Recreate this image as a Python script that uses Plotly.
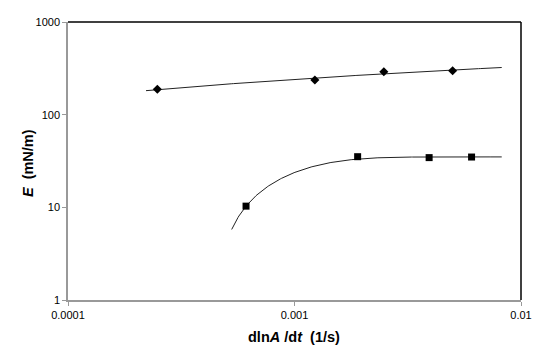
import numpy as np
import plotly.graph_objects as go

# Data
diamond_x = [0.000248, 0.00123, 0.00248, 0.00499]
diamond_y = [188, 237, 291, 298]
square_x = [0.000611, 0.00190, 0.00393, 0.00605]
square_y = [10.3, 35.2, 34.4, 34.9]

x_tick_vals = [0.0001, 0.001, 0.01]
x_tick_text = ["0.0001", "0.001", "0.01"]
y_tick_vals = [1, 10, 100, 1000]
y_tick_text = ["1", "10", "100", "1000"]

x_title = "<b>dln<i>A</i> /d<i>t</i>&nbsp;&nbsp;(1/s)</b>"
y_title = "<b><i>E</i>&nbsp;&nbsp;(mN/m)</b>"

# Trend-curve domains and parameters
diamond_fit_range = [0.000221, 0.00822]
square_fit_range = [0.000528, 0.00822]
square_fit_params = dict(Emax=35.0, x0=0.000439, tau=0.000494)

# Diamond trendline: logarithmic least-squares fit (y = a ln x + b)
a, b = np.polyfit(np.log(diamond_x), diamond_y, 1)
dx = np.logspace(np.log10(diamond_fit_range[0]), np.log10(diamond_fit_range[1]), 200)
dy = a * np.log(dx) + b

# Square trendline: saturating exponential
sx = np.logspace(np.log10(square_fit_range[0]), np.log10(square_fit_range[1]), 300)
p = square_fit_params
sy = p["Emax"] * (1 - np.exp(-(sx - p["x0"]) / p["tau"]))

fig = go.Figure()
fig.add_trace(go.Scatter(x=dx, y=dy, mode="lines", line=dict(color="#222", width=1), hoverinfo="skip"))
fig.add_trace(go.Scatter(x=sx, y=sy, mode="lines", line=dict(color="#222", width=1), hoverinfo="skip"))
fig.add_trace(go.Scatter(x=diamond_x, y=diamond_y, mode="markers",
                         marker=dict(symbol="diamond", size=7, color="black")))
fig.add_trace(go.Scatter(x=square_x, y=square_y, mode="markers",
                         marker=dict(symbol="square", size=7, color="black")))

font = "Liberation Sans, Arial, sans-serif"
fig.update_layout(
    width=541, height=356,
    margin=dict(l=68, r=20, t=22, b=56),
    plot_bgcolor="white", paper_bgcolor="white",
    showlegend=False,
    font=dict(family=font, size=11, color="black"),
    xaxis=dict(type="log", range=[-4, -2], tickvals=x_tick_vals, ticktext=x_tick_text,
               automargin=False,
               showgrid=False, zeroline=False, showline=True, linecolor="#999", linewidth=1.5,
               ticks="outside", ticklen=4, tickcolor="#999"),
    yaxis=dict(type="log", range=[0, 3], tickvals=y_tick_vals, ticktext=y_tick_text,
               automargin=False,
               showgrid=False, zeroline=False, showline=True, linecolor="#999", linewidth=1.5,
               ticks="outside", ticklen=4, tickcolor="#999"),
    annotations=[
        dict(text=x_title, xref="paper", yref="paper", x=0.499, y=-0.133,
             xanchor="center", yanchor="middle", showarrow=False, font=dict(size=14.5)),
        dict(text=y_title, xref="paper", yref="paper", x=-0.088, y=0.493, textangle=-90,
             xanchor="center", yanchor="middle", showarrow=False, font=dict(size=14.5)),
    ],
    shapes=[
        dict(type="line", xref="paper", yref="paper", x0=0, x1=1, y0=1, y1=1, line=dict(color="black", width=1.5)),
        dict(type="line", xref="paper", yref="paper", x0=1, x1=1, y0=0, y1=1, line=dict(color="black", width=1.5)),
    ],
)

fig.write_html("out.html", config={"displayModeBar": False},
               post_script="document.body.style.margin='0';document.body.style.overflow='hidden';")
